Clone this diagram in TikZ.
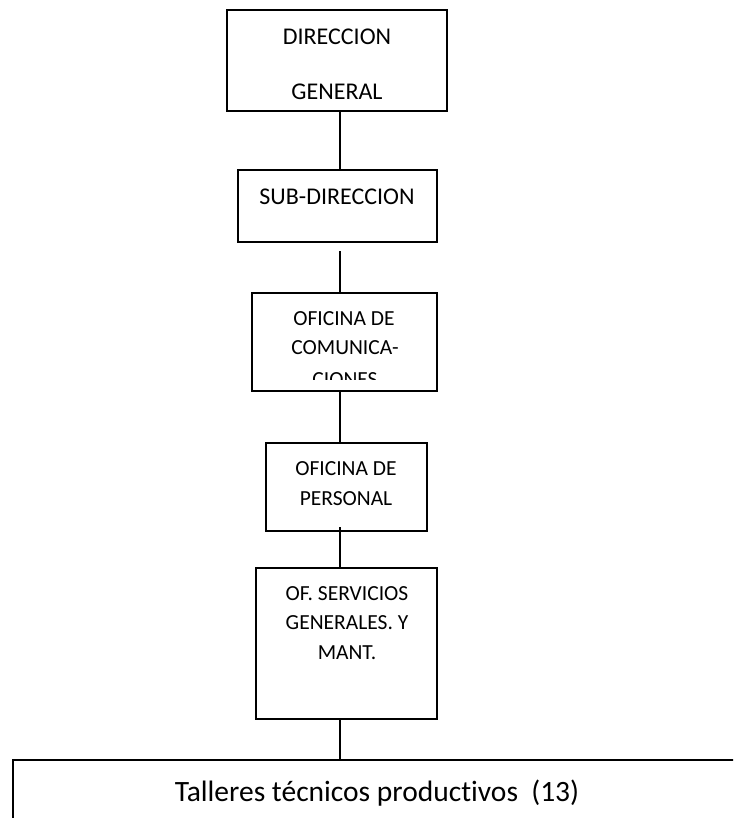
\documentclass[tikz,border=0pt]{standalone}
\usepackage{fontspec}
\setmainfont[Ligatures=NoCommon]{Carlito}
\begin{document}
\begin{tikzpicture}[x=1pt,y=-1pt,
  box/.style={draw, line width=1.3pt, inner sep=0pt, outer sep=0pt},
  conn/.style={line width=1.3pt},
  lbl/.style={inner sep=0pt, text height=13.8pt, text depth=0pt, font=\fontsize{21.5}{28}\selectfont},
  lblbig/.style={inner sep=0pt, text height=15.4pt, text depth=0pt, font=\fontsize{24}{30}\selectfont},
  big/.style={inner sep=0pt, text height=19pt, text depth=0pt, font=\fontsize{29.5}{36}\selectfont}]
\useasboundingbox (0,0) rectangle (733,818);
\clip (0,0) rectangle (733,818);
\coordinate (lx) at (340,0);
% boxes
\node[box, minimum width=220pt, minimum height=101pt] (dg) at (337,60.5) {};
\node[box, minimum width=199pt, minimum height=72pt] (sub) at (337.5,206) {};
\node[box, minimum width=185pt, minimum height=98pt] (com) at (344.5,342) {};
\node[box, minimum width=161pt, minimum height=88pt] (per) at (346.5,487) {};
\node[box, minimum width=181pt, minimum height=151pt] (sg) at (346.5,643.5) {};
\node[box, minimum width=728pt, minimum height=120pt] (tal) at (377,820) {};
% texts
\node[lblbig] (dg1) at (337,37) {DIRECCION};
\node[lblbig] (dg2) at (337,92) {GENERAL};
\node[lblbig] (sub1) at (337,197) {SUB-DIRECCION};
\node[lbl] (com1) at (344,319) {OFICINA DE};
\node[lbl] (com2) at (345,348) {COMUNICA-};
\begin{scope}
\clip (252,293) rectangle (437,379.5);
\node[lbl] (com3) at (345,380) {CIONES};
\end{scope}
\node[lbl] (per1) at (346,469) {OFICINA DE};
\node[lbl] (per2) at (346,499) {PERSONAL};
\node[lbl] (sg1) at (347,594) {OF. SERVICIOS};
\node[lbl] (sg2) at (347,623) {GENERALES. Y};
\node[lbl] (sg3) at (347,653) {MANT.};
\node[big] (tal1) at (377,792) {Talleres técnicos productivos\ \ (13)};
% connectors
\coordinate (c2) at (340,251);
\coordinate (c4) at (340,527);
\draw[conn] (dg.south -| lx) -- (sub.north -| lx);
\draw[conn] (c2) -- (com.north -| lx);
\draw[conn] (com.south -| lx) -- (per.north -| lx);
\draw[conn] (c4) -- (sg.north -| lx);
\draw[conn] (sg.south -| lx) -- (tal.north -| lx);
\end{tikzpicture}
\end{document}
